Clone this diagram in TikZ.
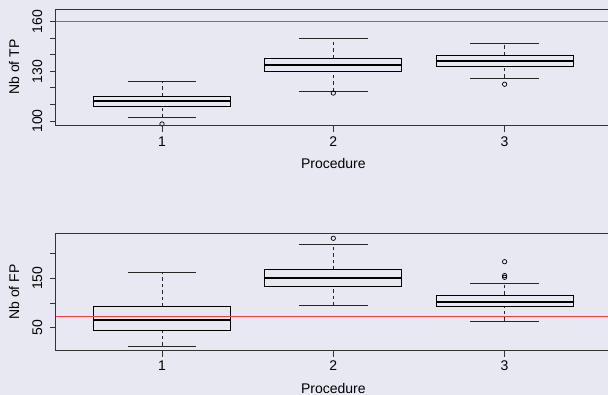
\documentclass[tikz,border=0pt]{standalone}
\usepackage{fontspec}
\setmainfont{Liberation Sans}
\usetikzlibrary{calc}
\definecolor{bgcol}{RGB}{232,232,242}
\definecolor{refred}{RGB}{238,66,66}
\tikzset{frame/.style={black!80, line width=0.8pt},
  boxline/.style={black, line width=0.8pt},
  medline/.style={black, line width=1.6pt},
  whisk/.style={black!85, line width=0.7pt, dash pattern=on 3.5pt off 3pt},
  capline/.style={black!85, line width=0.8pt},
  outl/.style={black, line width=0.7pt},
  refline/.style={draw=refred, line width=1.1pt},
  lab/.style={font=\fontsize{14}{16}\selectfont, inner sep=0pt}}

\begin{document}
\begin{tikzpicture}
\useasboundingbox (0,0) rectangle (608pt,395pt);
\fill[bgcol] (0,0) rectangle (608pt,395pt);

% top panel : true positives
\begin{scope}[shift={(-9.3pt,108.5pt)}, x=171.3pt, y=1.655pt]
\coordinate (tpa) at (0.38,160);
\coordinate (tpb) at (3.62,160);
\draw[refline] (tpa) -- (tpb);

\foreach \i/\lo/\qa/\me/\qb/\hi in {1/102/108.9/112.1/114.9/124, 2/118.1/130/134/137.9/150, 3/126/133/136.3/139.7/147.1}
         {
           \draw[whisk] (\i,\lo) -- (\i,\qa);
           \draw[whisk] (\i,\qb) -- (\i,\hi);
           \draw[capline] (\i-0.2,\lo) -- (\i+0.2,\lo);
           \draw[capline] (\i-0.2,\hi) -- (\i+0.2,\hi);
           \draw[boxline] (\i-0.4,\qa) rectangle (\i+0.4,\qb);
           \draw[medline] (\i-0.4,\me) -- (\i+0.4,\me);
           \draw[frame] (\i,97.4) -- ++(0,-6.4pt);
           \node[lab] (tpx\i) at ($(\i,97.4)+(0,-16.4pt)$) {\i};
         }

\draw[outl] (1,98.2) circle (2.2pt);
\draw[outl] (2,116.9) circle (2.2pt);
\draw[outl] (3,122.2) circle (2.2pt);

\draw[frame] (0.38,97.4) rectangle (3.62,167.7);
\foreach \v in {100,110,...,160}
  \draw[frame] (0.38,\v) -- ++(-6pt,0);
\foreach \v in {100,130,160}
  \node[lab,rotate=90] (tpy\v) at ($(0.38,\v)+(-18.4pt,0)$) {\v};

\node[lab] (tpxlab) at ($(2,97.4)+(0,-38.7pt)$) {Procedure};
\node[lab,rotate=90] (tpylab) at ($(0.38,132.55)+(-41.7pt,0)$) {Nb of TP};
\end{scope}

% bottom panel : false positives
\begin{scope}[shift={(-9.3pt,42.6pt)}, x=171.3pt, y=0.494pt]
\foreach \i/\lo/\qa/\me/\qb/\hi in {1/13/44.7/65.6/92.5/162.8, 2/94.5/133/150/167.4/219.4, 3/63.6/93.9/102/116.2/139.9}
         {
           \draw[whisk] (\i,\lo) -- (\i,\qa);
           \draw[whisk] (\i,\qb) -- (\i,\hi);
           \draw[capline] (\i-0.2,\lo) -- (\i+0.2,\lo);
           \draw[capline] (\i-0.2,\hi) -- (\i+0.2,\hi);
           \draw[boxline] (\i-0.4,\qa) rectangle (\i+0.4,\qb);
           \draw[medline] (\i-0.4,\me) -- (\i+0.4,\me);
           \draw[frame] (\i,4.25) -- ++(0,-6.4pt);
           \node[lab] (fpx\i) at ($(\i,4.25)+(0,-15.6pt)$) {\i};
         }

\draw[outl] (2,231) circle (2.2pt);
\draw[outl] (3,152) circle (2.2pt);
\draw[outl] (3,155.5) circle (2.2pt);
\draw[outl] (3,183.6) circle (2.2pt);

\draw[frame] (0.38,4.25) rectangle (3.62,240.3);
\foreach \v in {50,100,150,200}
  \draw[frame] (0.38,\v) -- ++(-6pt,0);
\foreach \v in {50,150}
  \node[lab,rotate=90] (fpy\v) at ($(0.38,\v)+(-18.4pt,0)$) {\v};

\node[lab] (fpxlab) at ($(2,4.25)+(0,-38pt)$) {Procedure};
\node[lab,rotate=90] (fpylab) at ($(0.38,122.3)+(-41.7pt,0)$) {Nb of FP};

\coordinate (fpa) at (0.38,72);
\coordinate (fpb) at (3.62,72);
\draw[refline] (fpa) -- (fpb);
\end{scope}
\end{tikzpicture}
\end{document}
